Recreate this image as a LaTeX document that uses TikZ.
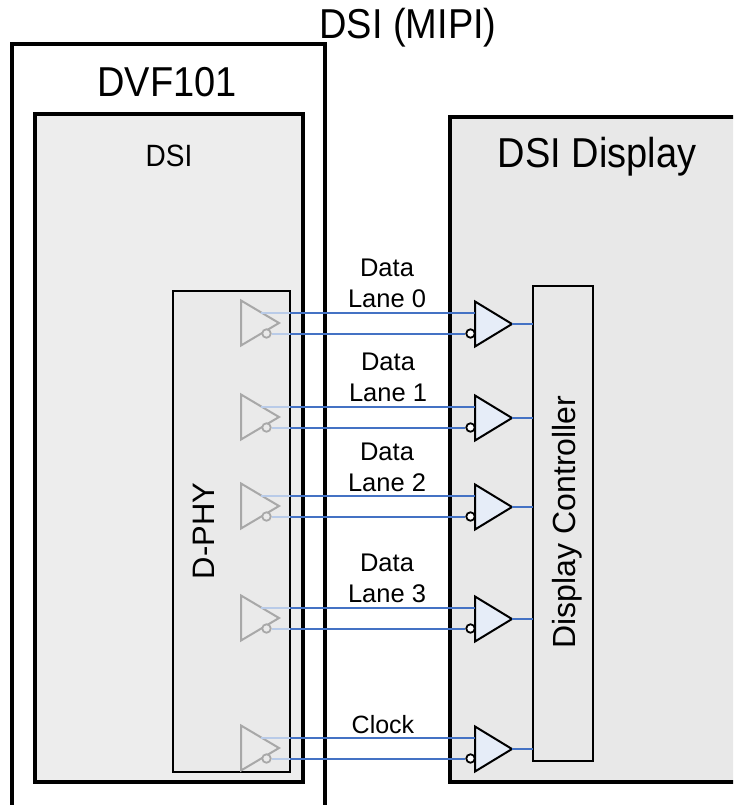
\documentclass[tikz,border=0pt]{standalone}
\usepackage{fontspec}
\setmainfont{Liberation Sans}
\definecolor{dsigray}{HTML}{EDEDED}
\definecolor{phygray}{HTML}{EAEAEA}
\definecolor{dispgray}{HTML}{E8E8E8}
\definecolor{wire}{HTML}{4472C4}
\definecolor{wirefaint}{HTML}{B9CBE8}
\definecolor{bufblue}{HTML}{E6EDF8}
\definecolor{ghost}{HTML}{A8A8A8}
\tikzset{
  frame/.style={draw=black, line width=3.2pt},
  thinbox/.style={draw=black, line width=2pt},
  wireln/.style={draw=wire, line width=2pt},
  faintln/.style={draw=wirefaint, line width=2pt},
  rxbuf/.style={draw=black, fill=bufblue, line width=2pt, line join=miter},
  txbuf/.style={draw=ghost, fill=phygray, line width=2pt, line join=miter},
  rxbubble/.style={circle, draw=black, fill=white, line width=1.8pt, minimum size=8.5pt, inner sep=0pt},
  txbubble/.style={circle, draw=ghost, fill=phygray, line width=1.8pt, minimum size=8.5pt, inner sep=0pt},
  lbl/.style={inner sep=0pt, align=center, text=black}
}
\newcommand{\tall}[1]{\scalebox{1}[1.1]{#1}}
\begin{document}
\begin{tikzpicture}[x=1pt,y=-1pt]
\useasboundingbox (0,0) rectangle (733,805);
\clip (0,0) rectangle (733,805);
\fill[white] (0,0) rectangle (733,805);

% DVF101 outer frame (open at bottom)
\draw[frame] (12,815) -- (12,44) -- (325,44) -- (325,815);
% DSI block
\draw[frame, fill=dsigray] (35,114) rectangle (303,782);
% D-PHY block
\draw[thinbox, fill=phygray] (173,291) rectangle (290,772);
% DSI Display block
\draw[frame, fill=dispgray] (450,117) rectangle (760,782);
% Display Controller block
\draw[thinbox] (533,286) rectangle (593,761);

% lanes: \c is the centre of the wire pair
\foreach \i/\c in {0/323,1/417,2/506,3/618,4/748} {
  % transmitter (ghosted)
  \path[txbuf] (241,\c-22.5) -- (279,\c) -- (241,\c+22.5) -- cycle;
  \node[txbubble] (tb\i) at (266.5,\c+10.5) {};
  \coordinate (tp\i) at (261,\c-10.5);
  \coordinate (te\i) at (290,\c-10.5);
  \coordinate (tn\i) at (290,\c+10.5);
  % receiver
  \path[rxbuf] (475,\c-21.5) -- (512,\c+1) -- (475,\c+23.5) -- cycle;
  \node[rxbubble] (rb\i) at (470.5,\c+10.5) {};
  \coordinate (rp\i) at (475,\c-10.5);
  \coordinate (ro\i) at (512,\c+1);
  \coordinate (dc\i) at (533,\c+1);
  % wires
  \draw[faintln] (tp\i) -- (te\i);
  \draw[faintln] (tb\i.east) -- (tn\i);
  \draw[wireln] (te\i) -- (rp\i);
  \draw[wireln] (tn\i) -- (rb\i.west);
  \draw[wireln] (ro\i) -- (dc\i);
}

% labels
\node[lbl, font=\fontsize{38}{44}\selectfont] (mipi) at (408,28) {\tall{DSI (MIPI)}};
\node[lbl, font=\fontsize{38}{44}\selectfont] (dvf) at (167,82) {\tall{DVF101}};
\node[lbl, font=\fontsize{28}{33}\selectfont] (dsi) at (169,156) {\tall{DSI}};
\node[lbl, font=\fontsize{38}{44}\selectfont] (disp) at (597,157) {\tall{DSI Display}};
\node[lbl, font=\fontsize{31}{36}\selectfont, rotate=90] (dphy) at (204,531) {D-PHY};
\node[lbl, font=\fontsize{32}{37}\selectfont, rotate=90] (ctrl) at (567,522) {Display Controller};
\node[lbl, font=\fontsize{25.5}{31}\selectfont] (l0) at (387,283.5) {Data\\Lane 0};
\node[lbl, font=\fontsize{25.5}{31}\selectfont] (l1) at (388,377.5) {Data\\Lane 1};
\node[lbl, font=\fontsize{25.5}{31}\selectfont] (l2) at (387,467.5) {Data\\Lane 2};
\node[lbl, font=\fontsize{25.5}{31}\selectfont] (l3) at (387,578) {Data\\Lane 3};
\node[lbl, font=\fontsize{25}{30}\selectfont] (clk) at (383,725) {Clock};
\end{tikzpicture}
\end{document}
